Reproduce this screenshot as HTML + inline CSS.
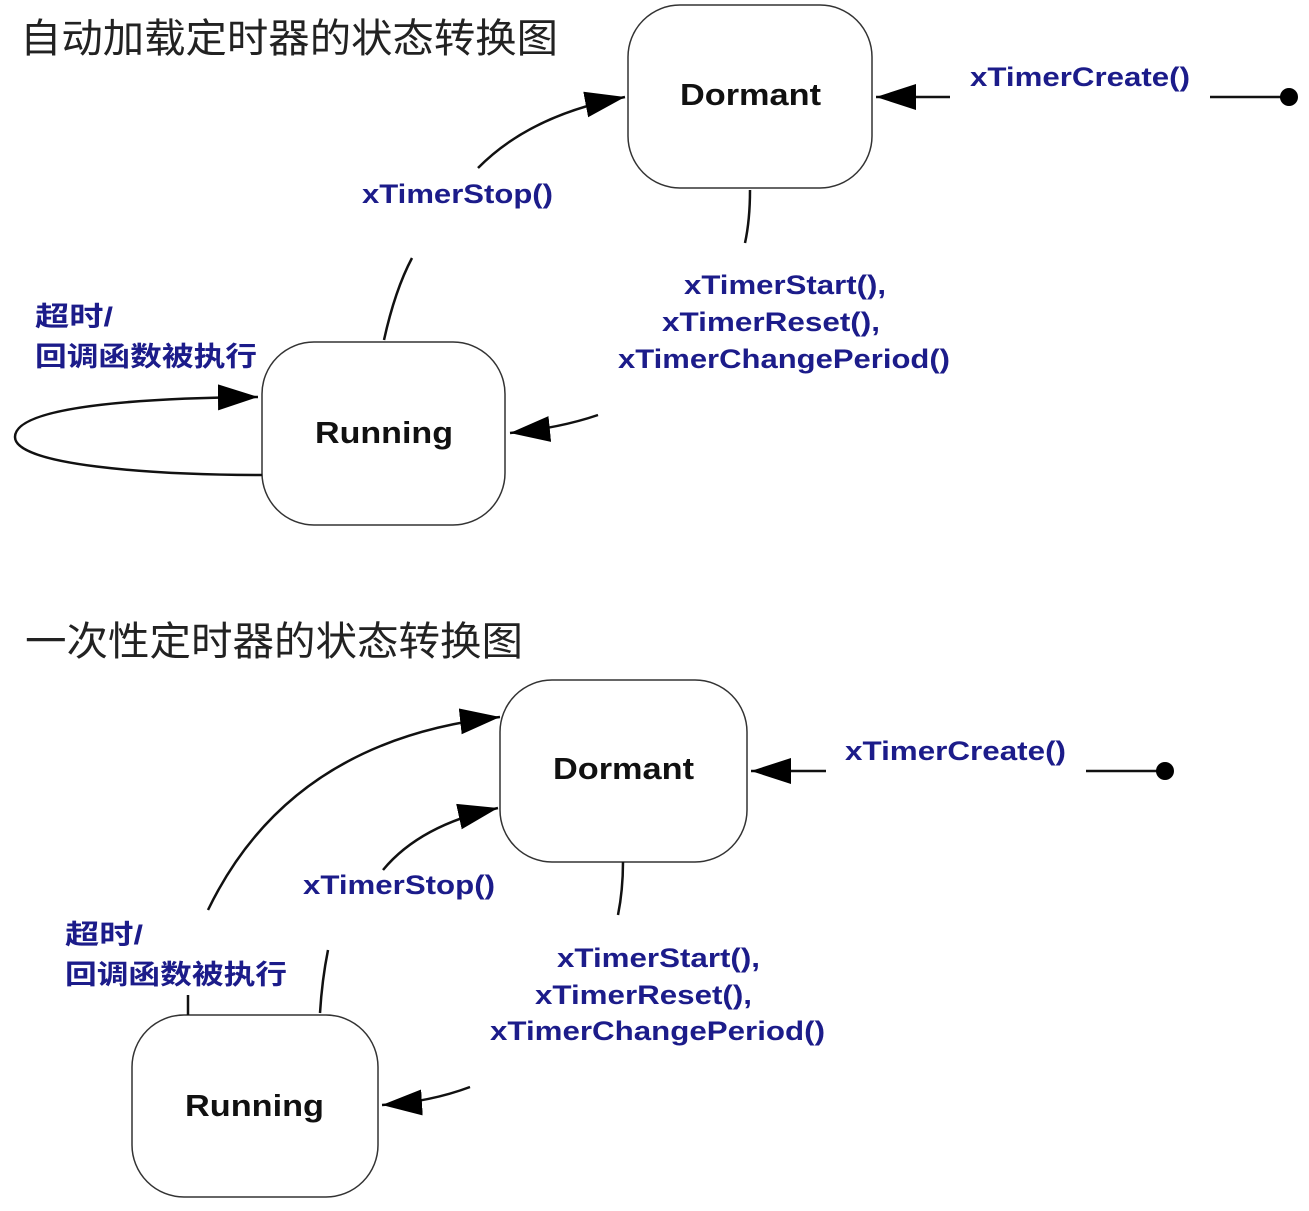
<!DOCTYPE html>
<html><head><meta charset="utf-8"><style>
html,body{margin:0;padding:0;background:#fff;}
svg{display:block;}
.t{font-family:"Liberation Sans","Noto Sans CJK SC",sans-serif;font-weight:bold;fill:#1c1c8a;font-size:27px;}
.n{font-family:"Liberation Sans",sans-serif;font-weight:bold;fill:#111;font-size:31px;}
.h{font-family:"Liberation Sans","Noto Sans CJK SC",sans-serif;fill:#222;font-size:40px;}
.b{fill:#fff;stroke:#333;stroke-width:1.5;}
.l{fill:none;stroke:#111;stroke-width:2.5;}
</style></head><body>
<svg width="1309" height="1211" viewBox="0 0 1309 1211" xmlns="http://www.w3.org/2000/svg">
<defs>
<marker id="a" markerUnits="userSpaceOnUse" markerWidth="44" markerHeight="32" refX="40" refY="13" orient="auto">
<path d="M0,0 L40,13 L0,26 Z" fill="#000"/>
</marker>
</defs>
<!-- TOP -->
<text class="h" x="20" y="52" textLength="538" lengthAdjust="spacingAndGlyphs">自动加载定时器的状态转换图</text>
<rect class="b" x="628" y="5" width="244" height="183" rx="52"/>
<text class="n" x="680" y="105" textLength="141" lengthAdjust="spacingAndGlyphs">Dormant</text>
<line class="l" x1="950" y1="97" x2="876" y2="97" marker-end="url(#a)"/>
<text class="t" x="970" y="86" textLength="220" lengthAdjust="spacingAndGlyphs">xTimerCreate()</text>
<line class="l" x1="1210" y1="97" x2="1288" y2="97"/>
<circle cx="1289" cy="97" r="9" fill="#000"/>
<rect class="b" x="262" y="342" width="243" height="183" rx="52"/>
<text class="n" x="315" y="443" textLength="138" lengthAdjust="spacingAndGlyphs">Running</text>
<path class="l" d="M384,340 Q395,290 412,258"/>
<path class="l" d="M478,168 Q530,115 625,97" marker-end="url(#a)"/>
<text class="t" x="362" y="203" textLength="191" lengthAdjust="spacingAndGlyphs">xTimerStop()</text>
<path class="l" d="M750,190 Q750,220 745,243"/>
<text class="t" x="684" y="294" textLength="202" lengthAdjust="spacingAndGlyphs">xTimerStart(),</text>
<text class="t" x="662" y="331" textLength="218" lengthAdjust="spacingAndGlyphs">xTimerReset(),</text>
<text class="t" x="618" y="368" textLength="332" lengthAdjust="spacingAndGlyphs">xTimerChangePeriod()</text>
<path class="l" d="M598,415 Q560,428 510,433" marker-end="url(#a)"/>
<path class="l" d="M262,475 C150,475 15,465 15,437 C15,405 150,398 258,397" marker-end="url(#a)"/>
<text class="t" x="35" y="326" textLength="78" lengthAdjust="spacingAndGlyphs">超时/</text>
<text class="t" x="35" y="366" textLength="222" lengthAdjust="spacingAndGlyphs">回调函数被执行</text>
<!-- BOTTOM -->
<text class="h" x="25" y="655" textLength="498" lengthAdjust="spacingAndGlyphs">一次性定时器的状态转换图</text>
<rect class="b" x="500" y="680" width="247" height="182" rx="52"/>
<text class="n" x="553" y="779" textLength="141" lengthAdjust="spacingAndGlyphs">Dormant</text>
<line class="l" x1="826" y1="771" x2="751" y2="771" marker-end="url(#a)"/>
<text class="t" x="845" y="760" textLength="221" lengthAdjust="spacingAndGlyphs">xTimerCreate()</text>
<line class="l" x1="1086" y1="771" x2="1164" y2="771"/>
<circle cx="1165" cy="771" r="9" fill="#000"/>
<rect class="b" x="132" y="1015" width="246" height="182" rx="52"/>
<text class="n" x="185" y="1116" textLength="139" lengthAdjust="spacingAndGlyphs">Running</text>
<path class="l" d="M208,910 Q290,740 500,717" marker-end="url(#a)"/>
<path class="l" d="M383,870 Q420,825 498,808" marker-end="url(#a)"/>
<text class="t" x="303" y="894" textLength="192" lengthAdjust="spacingAndGlyphs">xTimerStop()</text>
<line class="l" x1="188" y1="1015" x2="188" y2="995"/>
<path class="l" d="M320,1013 Q322,980 328,950"/>
<text class="t" x="65" y="944" textLength="78" lengthAdjust="spacingAndGlyphs">超时/</text>
<text class="t" x="65" y="984" textLength="222" lengthAdjust="spacingAndGlyphs">回调函数被执行</text>
<path class="l" d="M623,862 Q623,890 618,915"/>
<text class="t" x="557" y="967" textLength="203" lengthAdjust="spacingAndGlyphs">xTimerStart(),</text>
<text class="t" x="535" y="1004" textLength="217" lengthAdjust="spacingAndGlyphs">xTimerReset(),</text>
<text class="t" x="490" y="1040" textLength="335" lengthAdjust="spacingAndGlyphs">xTimerChangePeriod()</text>
<path class="l" d="M470,1087 Q430,1102 382,1105" marker-end="url(#a)"/>
</svg>
</body></html>
